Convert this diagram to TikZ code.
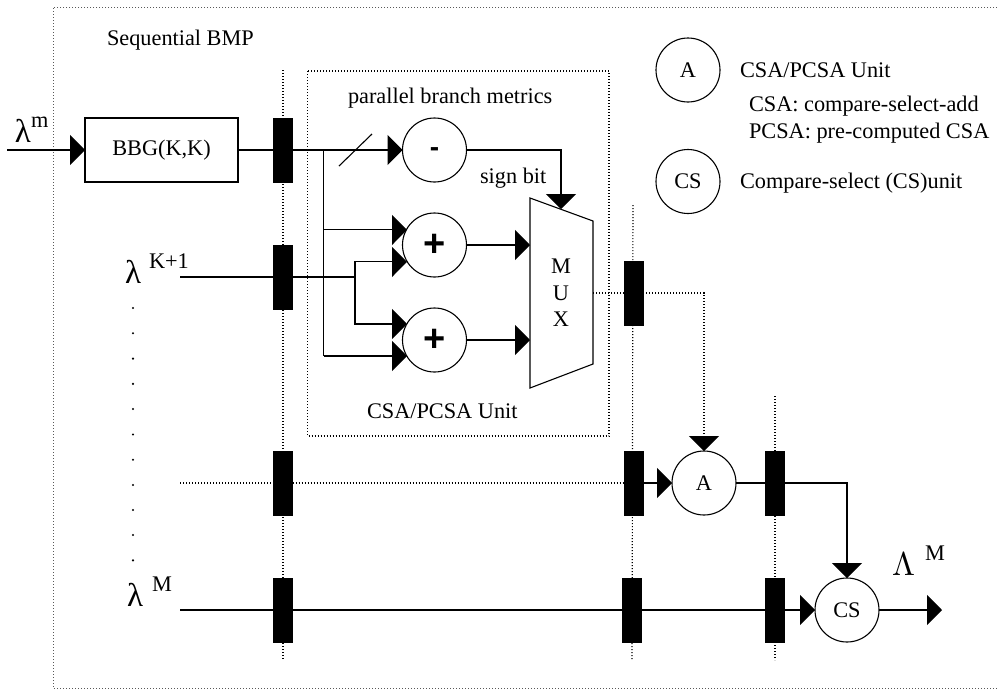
\documentclass[tikz,border=0pt]{standalone}
\usepackage{fontspec}
\setmainfont{Liberation Serif}
\newfontfamily\plusfont{Liberation Sans}
\usetikzlibrary{arrows.meta}
\tikzset{
  wire/.style={line width=1.1pt,draw=black},
  dotwire/.style={line width=1.1pt,draw=black,dash pattern=on 1pt off 2pt},
  greydot/.style={line width=1pt,draw=black!65,dash pattern=on 1pt off 2pt},
  head/.style={-{Triangle[length=15pt,width=30pt,inset=0pt]}},
  reg/.style={draw=black,fill=black,minimum width=19pt,minimum height=64pt,inner sep=0pt,outer sep=0pt,line width=.5pt},
  unit/.style={circle,draw=black,fill=white,line width=1.1pt,minimum size=64pt,inner sep=0pt,outer sep=0pt,font=\fontsize{22.3}{24}\selectfont},
  bbgbox/.style={rectangle,draw=black,fill=white,line width=1.1pt,minimum width=153pt,minimum height=64pt,inner sep=0pt,outer sep=0pt,font=\fontsize{22.3}{24}\selectfont},
  lab/.style={anchor=base west,inner sep=0pt,outer sep=0pt,font=\fontsize{22.3}{24}\selectfont},
  mid/.style={anchor=base,inner sep=0pt,outer sep=0pt,font=\fontsize{22.3}{24}\selectfont},
  greek/.style={anchor=base west,inner sep=0pt,outer sep=0pt,font=\fontsize{33}{36}\selectfont},
  sym/.style={inner sep=0pt,outer sep=0pt,font=\plusfont\bfseries\fontsize{38}{40}\selectfont},
  pt/.style={circle,fill=black,inner sep=0pt,minimum size=2.4pt}
}
\begin{document}
\begin{tikzpicture}[x=1pt,y=-1pt]
\useasboundingbox (0,0) rectangle (997,689);
% frames
\coordinate (ftr) at (997,7); \coordinate (ftl) at (53,7);
\coordinate (fbl) at (53,688); \coordinate (fbr) at (997,688);
\draw[greydot] (ftr) -- (ftl) -- (fbl) -- (fbr);
\coordinate (itl) at (307.5,71); \coordinate (ibr) at (609,436);
\draw[dotwire] (itl) rectangle (ibr);
% register column guides
\coordinate (g1t) at (283,70); \coordinate (g1b) at (283,660);
\coordinate (g2t) at (633,205); \coordinate (g2m) at (632.5,451); \coordinate (g2b) at (632,660);
\coordinate (g3t) at (775,396); \coordinate (g3b) at (775,660);
\draw[dotwire] (g1t) -- (g1b);
\draw[dotwire] (g2t) -- (g2m) -- (g2b);
\draw[dotwire] (g3t) -- (g3b);
% shapes
\node[bbgbox] (bbg) at (161.5,150) {BBG(K,K)};
\node[unit] (minus) at (434.5,150) {};
\node[sym,font=\plusfont\bfseries\fontsize{28}{30}\selectfont] (minussign) at (434.5,152) {-};
\node[unit] (p1) at (434.5,245) {};
\node[sym] (plusa) at (434.5,245) {+};
\node[unit] (p2) at (434.5,340) {};
\node[sym] (plusb) at (434.5,340) {+};
\draw[wire,fill=white] (530,198) coordinate (mtl) -- (593,221) coordinate (mtr) -- (593,364) coordinate (mbr) -- (530,388) coordinate (mbl) -- cycle;
\coordinate (mtop) at (561,209);
\coordinate (m1) at (530,245); \coordinate (m2) at (530,340); \coordinate (mout) at (593,293);
\node[mid] (mM) at (561,273) {M};
\node[mid] (mU) at (561,300) {U};
\node[mid] (mX) at (561,326) {X};
\node[unit] (a) at (704,483) {A};
\node[unit] (cs) at (847,610) {CS};
\node[unit] (la) at (688,70) {A};
\node[unit] (lcs) at (688,181.5) {CS};
% registers
\node[reg] (r1a) at (283,150) {};
\node[reg] (r1b) at (283,277) {};
\node[reg] (r1c) at (283,483) {};
\node[reg] (r1d) at (283,610) {};
\node[reg] (r2b) at (633.8,293) {};
\node[reg] (r2c) at (633.8,483) {};
\node[reg] (r2d) at (631.8,610) {};
\node[reg] (r3c) at (774.5,483) {};
\node[reg] (r3d) at (774.5,610) {};
% connectors
\coordinate (inm) at (7,150);
\draw[wire,head] (inm) -- (bbg.west);
\draw[wire] (bbg) -- (r1a);
\draw[wire,head] (r1a) -- (minus.west);
\coordinate (sl1) at (339,166); \coordinate (sl2) at (372,134);
\draw[wire] (sl1) -- (sl2);
\coordinate (j1) at (323.5,150); \coordinate (j2) at (323.5,356);
\coordinate (a1) at (407,229.9); \coordinate (a4) at (407,356);
\draw[wire] (j1) -- (j2);
\draw[wire,head] (j1 |- a1) -- (a1);
\draw[wire,head] (j2) -- (a4);
\coordinate (inK) at (180,277); \coordinate (j3) at (355,277);
\draw[wire] (inK) -- (r1b);
\draw[wire] (r1b) -- (j3);
\coordinate (a2) at (407,261.9); \coordinate (a3) at (407,324);
\draw[wire,head] (j3) |- (a2);
\draw[wire,head] (j3) |- (a3);
\draw[wire,head] (p1) -- (m1);
\draw[wire,head] (p2) -- (m2);
\draw[wire,head] (minus.east) -| (mtop);
\draw[dotwire] (mout) -- (r2b);
\draw[dotwire,-{Triangle[length=15pt,width=30pt,inset=0pt]}] (r2b) -| (a.north);
\coordinate (inc) at (180,483);
\draw[dotwire] (inc) -- (r1c);
\draw[dotwire] (r1c) -- (r2c);
\draw[wire,head] (r2c) -- (a.west);
\draw[wire] (a) -- (r3c);
\draw[wire,head] (r3c) -| (cs.north);
\coordinate (ind) at (180,610);
\draw[wire] (ind) -- (r1d);
\draw[wire] (r1d) -- (r2d);
\draw[wire] (r2d) -- (r3d);
\draw[wire,head] (r3d) -- (cs.west);
\coordinate (outm) at (942,610);
\draw[wire,head] (cs.east) -- (outm);
% labels
\node[lab] (t1) at (107,45) {Sequential BMP};
\node[lab] (t2) at (348,103) {parallel branch metrics};
\node[lab] (t3) at (480,183) {sign bit};
\node[lab] (t4) at (367,418) {CSA/PCSA Unit};
\node[lab] (t5) at (740,77) {CSA/PCSA Unit};
\node[lab] (t6) at (749,111) {CSA: compare-select-add};
\node[lab] (t7) at (749,138) {PCSA: pre-computed CSA};
\node[lab] (t8) at (740,188) {Compare-select (CS)unit};
\node[greek] (l1) at (15,142) {λ};
\node[lab] (l1s) at (31,127) {m};
\node[greek] (l2) at (125,283) {λ};
\node[lab] (l2s) at (149,268) {K+1};
\node[greek] (l3) at (127,606) {λ};
\node[lab] (l3s) at (152,591) {M};
\node[anchor=base west,inner sep=0pt,outer sep=0pt,scale=3.3] (l4) at (892,575) {$\Lambda$};
\node[lab] (l4s) at (925,560) {M};
% column of dots
\foreach \i/\yy in {1/308,2/333.2,3/358.6,4/383.8,5/409,6/434.5,7/459.7,8/485,9/510,10/535,11/560.3}
  \node[pt] (d\i) at (133,\yy) {};
\end{tikzpicture}
\end{document}
